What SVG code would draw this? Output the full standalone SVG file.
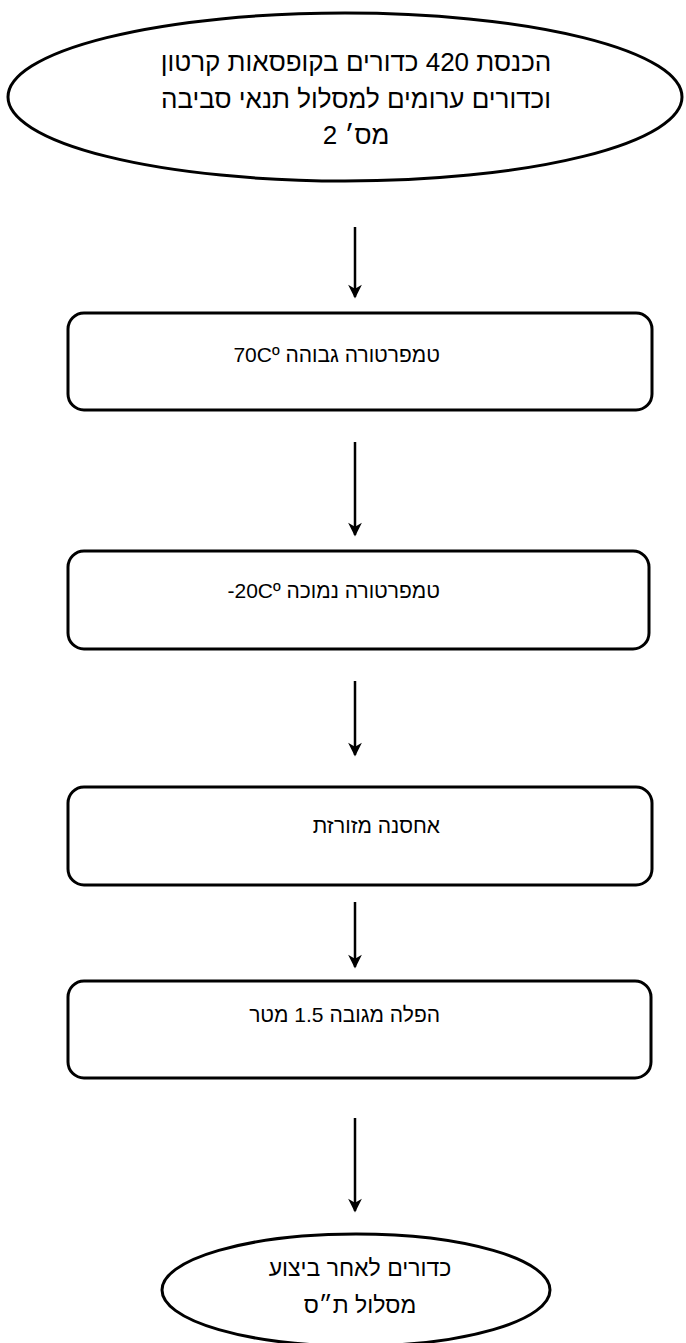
<svg xmlns="http://www.w3.org/2000/svg" width="686" height="1343" viewBox="0 0 686 1343">
<style>
.shape{fill:#fff;stroke:#000;stroke-width:3}
.lbl{font-family:"Liberation Sans","DejaVu Sans","Noto Sans",sans-serif;font-size:22px;fill:#000;direction:rtl}
.c{text-anchor:middle}
.r{text-anchor:start;font-size:21px}
.big{font-size:26px}
.mid{font-size:23px}
.conn{stroke:#000;stroke-width:2.5;fill:none;marker-end:url(#ah)}
</style>
<defs>
<marker id="ah" viewBox="0 0 10 10" refX="9" refY="5" markerWidth="6" markerHeight="5.5" orient="auto" markerUnits="strokeWidth">
<path d="M0,0 L10,5 L0,10 L3,5 z" fill="#000"/>
</marker>
</defs>
<rect width="686" height="1343" fill="#fff"/>
<g id="n1">
<ellipse class="shape" cx="345" cy="97" rx="337" ry="84"/>
<text class="lbl c big" x="356" y="71">הכנסת 420 כדורים בקופסאות קרטון</text>
<text class="lbl c big" x="356" y="108">וכדורים ערומים למסלול תנאי סביבה</text>
<text class="lbl c big" x="356" y="144">מס׳ 2</text>
</g>
<g id="n2">
<rect class="shape" x="68" y="313" width="584" height="97" rx="16"/>
<text class="lbl r" x="440" y="362">טמפרטורה גבוהה 70Cº</text>
</g>
<g id="n3">
<rect class="shape" x="68" y="551" width="581" height="98" rx="16"/>
<text class="lbl r" x="440" y="598">טמפרטורה נמוכה 20Cº-</text>
</g>
<g id="n4">
<rect class="shape" x="68" y="787" width="584" height="98" rx="16"/>
<text class="lbl r" x="440" y="833">אחסנה מזורזת</text>
</g>
<g id="n5">
<rect class="shape" x="68" y="981" width="583" height="97" rx="16"/>
<text class="lbl r" x="440" y="1022">הפלה מגובה 1.5 מטר</text>
</g>
<g id="n6">
<ellipse class="shape" cx="356" cy="1290" rx="194" ry="56"/>
<text class="lbl c mid" x="360" y="1276">כדורים לאחר ביצוע</text>
<text class="lbl c mid" x="360" y="1313">מסלול ת״ס</text>
</g>
<g id="connectors">
<line class="conn" x1="355" y1="227" x2="355" y2="297"/>
<line class="conn" x1="355" y1="442" x2="355" y2="535"/>
<line class="conn" x1="355" y1="681" x2="355" y2="755"/>
<line class="conn" x1="355" y1="902" x2="355" y2="967"/>
<line class="conn" x1="355" y1="1118" x2="355" y2="1211"/>
</g>
</svg>
